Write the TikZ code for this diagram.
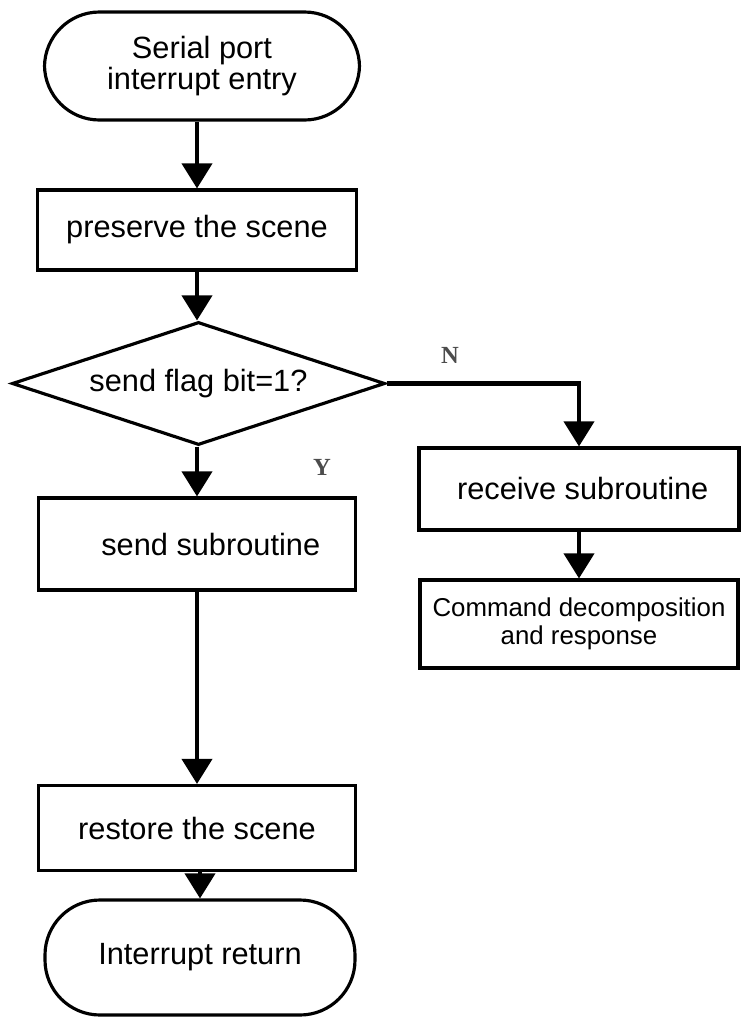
\documentclass[tikz,border=0pt]{standalone}
\usepackage{fontspec}
\setmainfont{Liberation Sans}
\newfontfamily\lblfont{Liberation Serif}
\usetikzlibrary{arrows.meta,shapes.geometric}

\begin{document}
\begin{tikzpicture}[line join=miter]
\tikzstyle{every node}+=[inner sep=0pt]
\tikzstyle{term}=[draw, line width=1.8pt, rounded corners=1.1cm, align=center, font=\fontsize{17.5}{18}\selectfont]
\tikzstyle{proc}=[draw, line width=1.8pt, align=center, font=\fontsize{17.5}{18}\selectfont]
\tikzstyle{test}=[draw, diamond, aspect=3.03, line width=1.8pt, font=\fontsize{17.5}{18}\selectfont]
\tikzstyle{flow}=[line width=2.3pt, -{Triangle[length=0.5cm,width=0.6cm]}]
\tikzstyle{yn}=[font=\lblfont\bfseries\fontsize{14}{16}\selectfont, text=black!70]
\useasboundingbox (0,0) rectangle (15,-20.6);
\node [term, minimum width=6.3cm, minimum height=2.16cm] (entry) at (4.04,-1.32) {Serial port\\interrupt entry};
\node [proc, minimum width=6.38cm, minimum height=1.6cm] (save) at (3.94,-4.6) {preserve the scene};
\node [test, minimum width=7.46cm, minimum height=2.46cm] (flag) at (3.97,-7.67) {send flag bit=1?};
\node [proc, minimum width=6.34cm, minimum height=1.84cm] (send) at (3.94,-10.88) {\hspace{0.55cm}send subroutine};
\node [proc, minimum width=6.34cm, minimum height=1.7cm] (restore) at (3.94,-16.56) {restore the scene};
\node [term, minimum width=6.2cm, minimum height=2.3cm] (ret) at (4.0,-19.15) {Interrupt return};
\node [proc, minimum width=6.4cm, minimum height=1.64cm] (recv) at (11.58,-9.78) {\hspace{0.15cm}receive subroutine};
\node [proc, minimum width=6.36cm, minimum height=1.76cm, font=\fontsize{14.7}{16}\selectfont] (cmd) at (11.58,-12.48) {Command decomposition\\and response};
\node [yn] (nlbl) at (9.0,-7.1) {N};
\node [yn] (ylbl) at (6.44,-9.34) {Y};
\draw [flow] (entry.south -| save.north) -- (save.north);
\draw [flow] (save.south) -- (save.south |- flag.north);
\draw [flow] (flag.east) -| (recv.north);
\draw [flow] (flag.south -| send.north) -- (send.north);
\draw [flow] (recv.south) -- (cmd.north);
\draw [flow] (send.south) -- (restore.north);
\draw [flow] (restore.south -| ret.north) -- (ret.north);
\end{tikzpicture}
\end{document}
